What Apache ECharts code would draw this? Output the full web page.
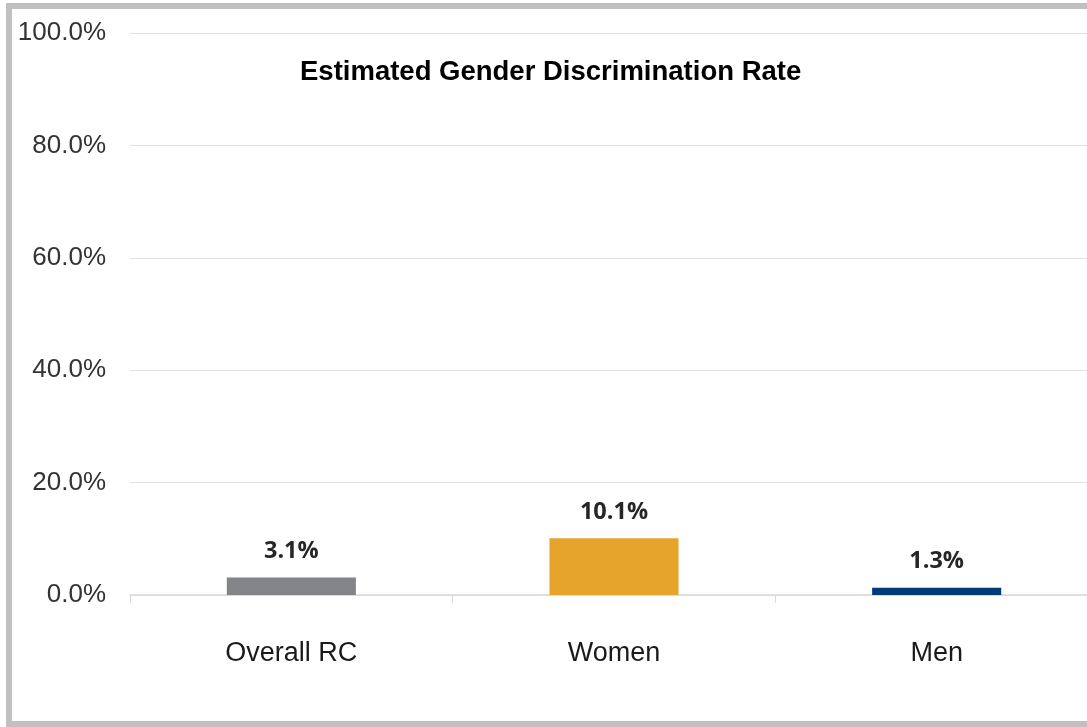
<!DOCTYPE html>
<html>
<head>
<meta charset="utf-8">
<script src="https://cdn.jsdelivr.net/npm/echarts@6/dist/echarts.min.js"></script>
<style>
  html, body { margin: 0; padding: 0; background: #fff; }
  #chart { width: 1087px; height: 727px; }
</style>
</head>
<body>
<div id="chart"></div>
<script>
// chart data
var categories = ["Overall RC", "Women", "Men"];
var rates = [3.1, 10.1, 1.3];
var barColors = ["#838487", "#E6A42C", "#013A78"];
var yTicks = [0, 20, 40, 60, 80, 100];

var chart = echarts.init(document.getElementById("chart"));

chart.setOption({
  animation: false,
  title: {
    text: "Estimated Gender Discrimination Rate",
    left: 295,
    top: 53,
    textStyle: {
      fontFamily: "Liberation Sans, Arial",
      fontSize: 27.5,
      fontWeight: "bold",
      color: "#000"
    }
  },
  // outer frame of the picture
  graphic: [
    {
      type: "rect",
      shape: { x: 9, y: 6, width: 1200, height: 718 },
      style: { fill: "none", stroke: "#c0c0c0", lineWidth: 6 },
      silent: true
    }
  ],
  grid: {
    left: 130,
    top: 33,
    width: 968,
    height: 562,
    outerBoundsMode: "none"
  },
  xAxis: {
    type: "category",
    data: categories,
    axisLine: { lineStyle: { color: "#d9d9d9", width: 1.5 } },
    axisTick: { show: true, length: 8, lineStyle: { color: "#d9d9d9" } },
    axisLabel: {
      margin: 45,
      fontFamily: "Liberation Sans, Arial",
      fontSize: 27,
      color: "#1a1a1a"
    }
  },
  yAxis: {
    type: "value",
    min: yTicks[0],
    max: yTicks[yTicks.length - 1],
    interval: 20,
    axisLine: { show: false },
    axisTick: { show: false },
    splitLine: { lineStyle: { color: "#e3e3e3", width: 1 } },
    axisLabel: {
      margin: 24,
      fontFamily: "Liberation Sans, Arial",
      fontSize: 26,
      color: "#333",
      formatter: function (v) { return v.toFixed(1) + "%"; }
    }
  },
  series: [
    {
      type: "bar",
      barWidth: "40%",
      data: rates.map(function (v, i) {
        return { value: v, itemStyle: { color: barColors[i] } };
      }),
      label: {
        show: true,
        position: "top",
        distance: 14,
        fontFamily: "Open Sans",
        fontWeight: "bold",
        fontSize: 23.5,
        color: "#262626",
        formatter: function (p) { return p.value.toFixed(1) + "%"; }
      }
    }
  ]
});
</script>
</body>
</html>
